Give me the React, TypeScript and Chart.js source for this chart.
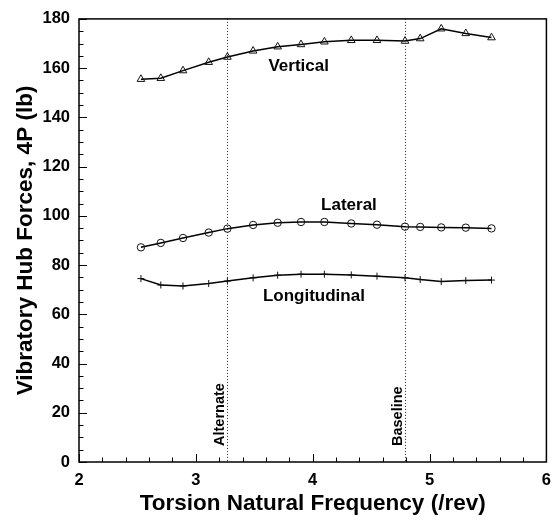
import React, { useEffect, useRef } from 'react';
import { Chart, registerables } from 'chart.js';

Chart.register(...registerables);

const freqs = [2.53, 2.70, 2.89, 3.11, 3.27, 3.49, 3.70, 3.90, 4.10, 4.33, 4.55, 4.79, 4.92, 5.10, 5.31, 5.53];
const verticalForce = [155.5, 155.9, 159, 162.4, 164.5, 167, 168.7, 169.6, 170.7, 171.3, 171.3, 171, 172, 176, 174.1, 172.4];
const lateralForce = [87.2, 89, 91, 93.2, 94.8, 96.3, 97.2, 97.5, 97.5, 96.9, 96.4, 95.6, 95.5, 95.3, 95.2, 94.9];
const longitudinalForce = [74.5, 71.9, 71.5, 72.5, 73.5, 74.8, 75.9, 76.3, 76.3, 76, 75.5, 74.8, 74.1, 73.3, 73.7, 73.9];

const seriesNames = ['Vertical', 'Lateral', 'Longitudinal'];
const seriesLabelX = [3.88, 4.31, 4.01];
const seriesLabelY = [160.8, 104.1, 67.5];

const refFreqs = [3.27, 4.79];
const refNames = ['Alternate', 'Baseline'];

const FONT = '"Liberation Sans", Arial, Helvetica, sans-serif';

const toPoints = (ys: number[]) => freqs.map((x, i) => ({ x, y: ys[i] }));

const decorPlugin = {
  id: 'decor',
  beforeDatasetsDraw(chart: any) {
    const { ctx, chartArea, scales } = chart;
    const xs = scales.x;
    ctx.save();
    ctx.strokeStyle = '#222';
    ctx.lineWidth = 1;
    ctx.setLineDash([1, 2]);
    refFreqs.forEach((f) => {
      const px = Math.round(xs.getPixelForValue(f)) + 0.5;
      ctx.beginPath();
      ctx.moveTo(px, chartArea.top);
      ctx.lineTo(px, chartArea.bottom);
      ctx.stroke();
    });
    ctx.setLineDash([]);
    ctx.fillStyle = '#000';
    ctx.font = `bold 14.5px ${FONT}`;
    ctx.textAlign = 'left';
    ctx.textBaseline = 'alphabetic';
    refFreqs.forEach((f, i) => {
      const px = xs.getPixelForValue(f);
      ctx.save();
      ctx.translate(px - 3.5, chartArea.bottom - 16);
      ctx.rotate(-Math.PI / 2);
      ctx.fillText(refNames[i], 0, 0);
      ctx.restore();
    });
    ctx.restore();
  },
  afterDatasetsDraw(chart: any) {
    const { ctx, chartArea, scales } = chart;
    const xs = scales.x;
    const ysc = scales.y;
    ctx.save();
    ctx.strokeStyle = '#000';
    ctx.lineWidth = 1.5;
    ctx.strokeRect(chartArea.left, chartArea.top, chartArea.right - chartArea.left, chartArea.bottom - chartArea.top);
    ctx.lineWidth = 1;
    for (let k = 0; k <= 20; k++) {
      const v = 2 + k * 0.2;
      const major = k % 5 === 0;
      const px = Math.round(xs.getPixelForValue(v)) + 0.5;
      ctx.beginPath();
      ctx.moveTo(px, chartArea.bottom);
      ctx.lineTo(px, chartArea.bottom - (major ? 8 : 4.5));
      ctx.stroke();
    }
    for (let k = 0; k <= 36; k++) {
      const v = k * 5;
      const major = k % 4 === 0;
      const py = Math.round(ysc.getPixelForValue(v)) + 0.5;
      ctx.beginPath();
      ctx.moveTo(chartArea.left, py);
      ctx.lineTo(chartArea.left + (major ? 8 : 4.5), py);
      ctx.stroke();
    }
    ctx.fillStyle = '#000';
    ctx.font = `bold 17px ${FONT}`;
    ctx.textAlign = 'center';
    ctx.textBaseline = 'middle';
    seriesNames.forEach((n, i) => {
      ctx.fillText(n, xs.getPixelForValue(seriesLabelX[i]), ysc.getPixelForValue(seriesLabelY[i]));
    });
    ctx.restore();
  },
};

export default function App() {
  const ref = useRef<HTMLCanvasElement | null>(null);
  useEffect(() => {
    if (!ref.current) return;
    const common = {
      borderColor: '#000',
      backgroundColor: 'rgba(0,0,0,0)',
      pointBorderColor: '#111',
      pointBackgroundColor: 'rgba(255,255,255,0)',
      borderWidth: 1.5,
      pointBorderWidth: 1,
      showLine: true,
      tension: 0,
      fill: false,
    };
    const chart = new Chart(ref.current, {
      type: 'scatter',
      data: {
        datasets: [
          { ...common, label: seriesNames[0], data: toPoints(verticalForce), pointStyle: 'triangle', pointRadius: 4.4 },
          { ...common, label: seriesNames[1], data: toPoints(lateralForce), pointStyle: 'circle', pointRadius: 3.7 },
          { ...common, label: seriesNames[2], data: toPoints(longitudinalForce), pointStyle: 'cross', pointRadius: 3.5 },
        ],
      },
      options: {
        responsive: false,
        animation: false,
        layout: { padding: { top: 12, right: 10, left: 0, bottom: 0 } },
        plugins: { legend: { display: false }, tooltip: { enabled: false } },
        scales: {
          x: {
            type: 'linear',
            min: 2,
            max: 6,
            grid: { display: false, drawTicks: false },
            border: { display: false },
            ticks: {
              stepSize: 1,
              color: '#000',
              padding: 9,
              font: { family: FONT, size: 16.5, weight: 'bold' },
            },
            title: {
              display: true,
              text: 'Torsion Natural Frequency (/rev)',
              color: '#000',
              font: { family: FONT, size: 22.5, weight: 'bold' },
              padding: { top: 0, bottom: 3 },
            },
            afterFit: (s: any) => { s.height = 58; },
          },
          y: {
            type: 'linear',
            min: 0,
            max: 180,
            grid: { display: false, drawTicks: false },
            border: { display: false },
            ticks: {
              stepSize: 20,
              color: '#000',
              padding: 9,
              font: { family: FONT, size: 16.5, weight: 'bold' },
            },
            title: {
              display: true,
              text: 'Vibratory Hub Forces, 4P (lb)',
              color: '#000',
              font: { family: FONT, size: 22.5, weight: 'bold' },
              padding: { top: 12, bottom: 0 },
            },
            afterFit: (s: any) => { s.width = 79; },
          },
        },
      },
      plugins: [decorPlugin],
    } as any);
    return () => chart.destroy();
  }, []);
  return (
    <canvas
      ref={ref}
      width={560}
      height={520}
      style={{ position: 'absolute', left: 0, top: 0, width: 560, height: 520, background: '#fff' }}
    />
  );
}
